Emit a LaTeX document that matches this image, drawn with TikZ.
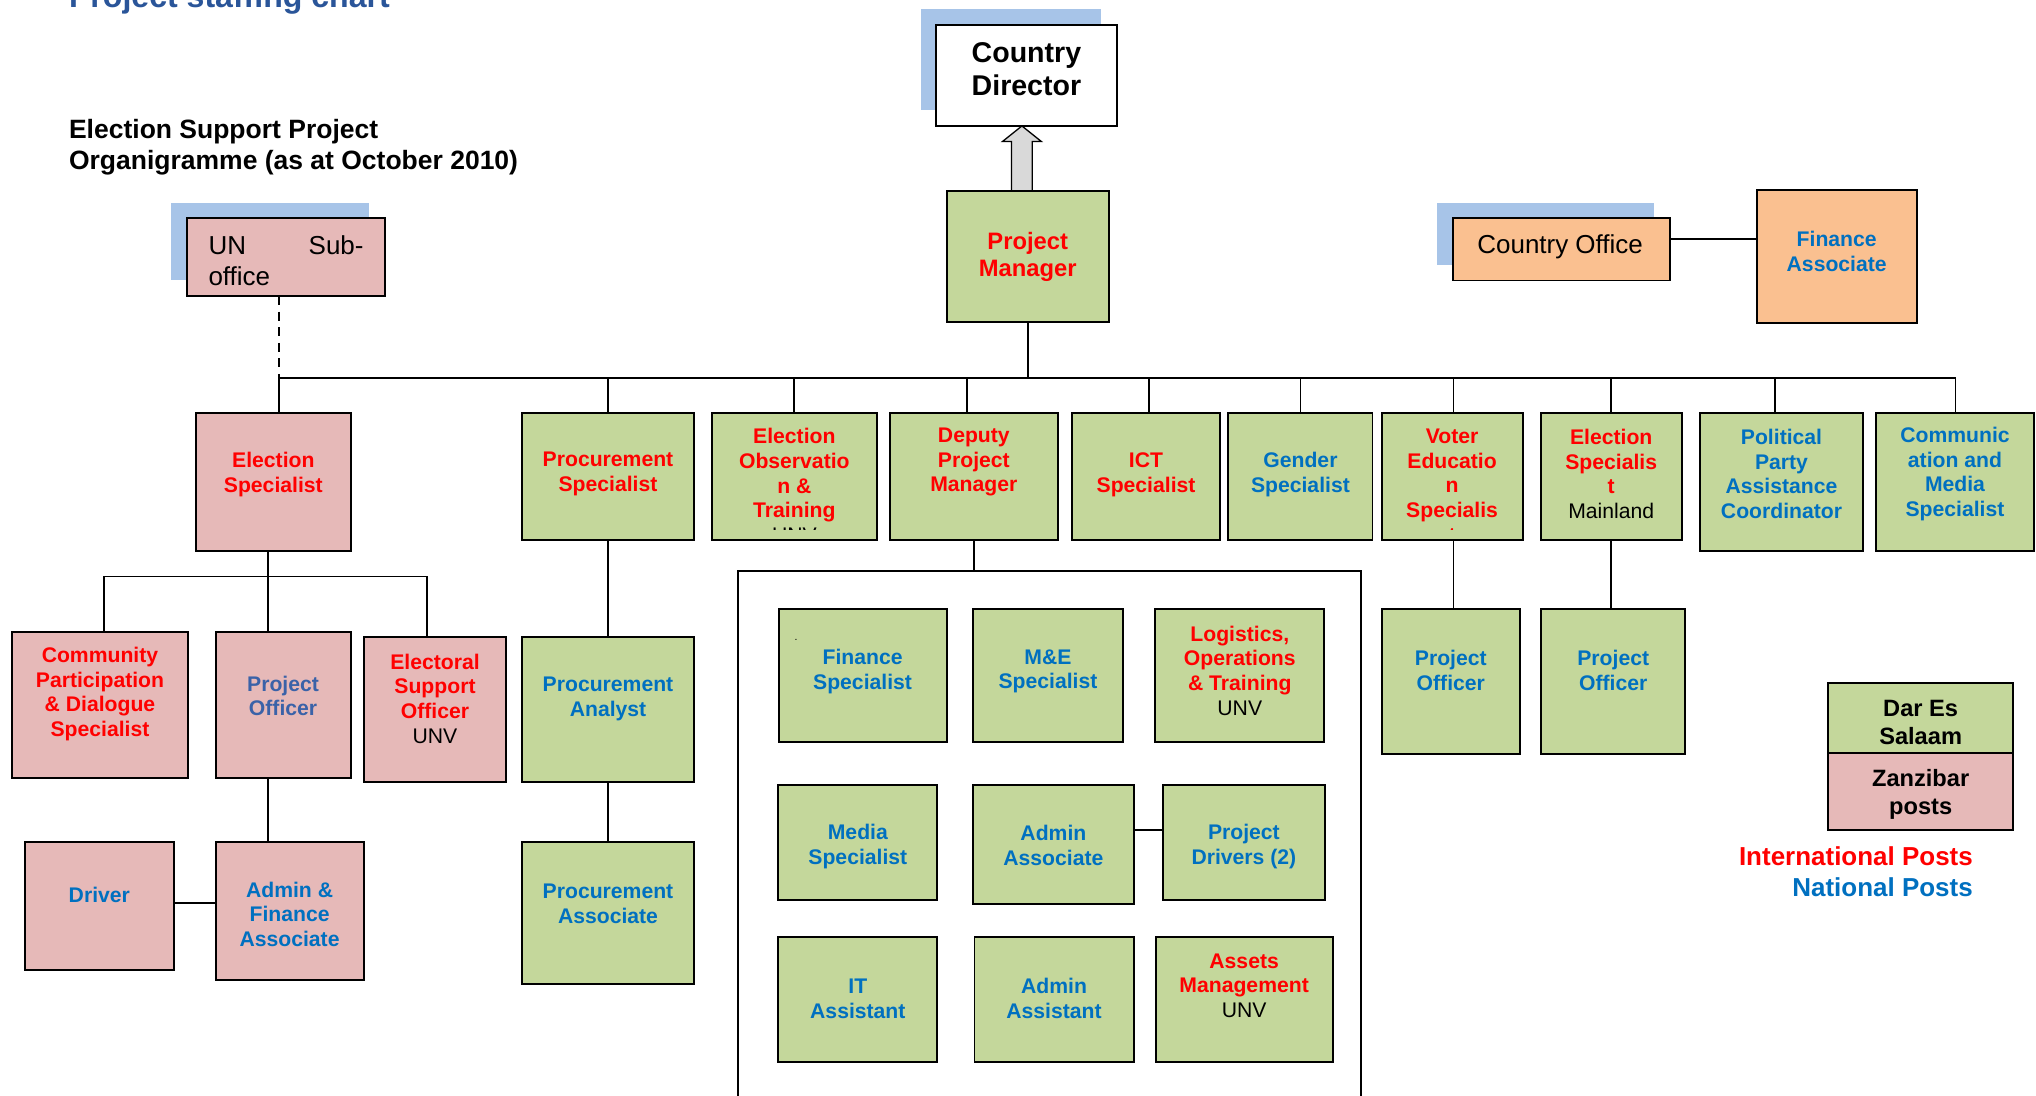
\documentclass[tikz,border=0pt]{standalone}
\usepackage{fontspec}
\setmainfont{Liberation Sans}
\usetikzlibrary{calc,shadows}
\definecolor{gfill}{HTML}{C4D79B}
\definecolor{pfill}{HTML}{E6B9B8}
\definecolor{ofill}{HTML}{FAC090}
\definecolor{shblue}{HTML}{A7C4E8}
\definecolor{ired}{HTML}{FF0000}
\definecolor{nblue}{HTML}{0070C0}
\definecolor{pblue}{HTML}{3A62A8}
\definecolor{tblue}{HTML}{2A5599}
\definecolor{agray}{HTML}{D9D9D9}
\begin{document}
\begin{tikzpicture}[x=1pt,y=-1pt,
 box/.style={draw=black, line width=1.5pt, inner sep=0pt, outer sep=0pt},
 gbox/.style={box, fill=gfill},
 pbox/.style={box, fill=pfill},
 obox/.style={box, fill=ofill},
 wbox/.style={box, fill=white},
 bshadow/.style={general shadow={fill=shblue, draw=none, shadow xshift=-12pt, shadow yshift=12pt}},
 txt/.style={inner sep=0pt, align=center, font=\fontsize{16.3}{19}\selectfont\bfseries},
 rtxt/.style={txt, text=ired},
 btxt/.style={txt, text=nblue},
 conn/.style={draw=black, line width=1.35pt},
 regtxt/.style={inner sep=0pt, font=\fontsize{20}{24}\selectfont},
]
\fill[white] (0,0) rectangle (1568,844);
\path[use as bounding box, clip] (0,0) rectangle (1568,844);

% titles
\node[anchor=base west, inner sep=0pt, font=\fontsize{24.7}{28}\selectfont\bfseries, text=tblue] (title) at (53,6) {Project staffing chart};
\node[anchor=west, align=left, inner sep=0pt, font=\fontsize{20.4}{24}\selectfont\bfseries] (head) at (53,113.5) {Election Support Project\\Organigramme (as at October 2010)};

% top boxes
\node[wbox, bshadow, minimum width=139, minimum height=78] (cd) at (790.5,58) {};
\node[txt, font=\fontsize{22}{25.5}\selectfont\bfseries] (cdt) at (790.5,53.5) {Country\\Director};
\node[gbox, minimum width=125, minimum height=101] (pm) at (791.5,197.5) {};
\node[txt, text=ired, font=\fontsize{18.3}{21}\selectfont\bfseries] (pmt) at (791.5,198) {Project\\Manager};
\node[pbox, bshadow, minimum width=152.5, minimum height=60] (un) at (220.25,198) {};
\node[regtxt, text width=119.4pt, align=left] (unt) at (220.3,201) {UN\hfill Sub-\\office};
\node[obox, bshadow, minimum width=167, minimum height=48] (co) at (1202.5,192) {};
\node[regtxt] (cot) at (1201.5,190) {Country Office};
\node[obox, minimum width=123, minimum height=103] (fa) at (1414.5,197.5) {};
\node[btxt] (fat) at (1414.5,193.5) {Finance\\Associate};

% block arrow
\coordinate (as) at ([xshift=-4.5pt]pm.north);
\coordinate (at) at (as |- cd.south);
\draw[fill=agray, line width=1pt, line join=miter] ($(as)+(-8,0)$) -- ($(at)+(-8,12)$) -- ($(at)+(-15,12)$) -- (at) -- ($(at)+(15,12)$) -- ($(at)+(8,12)$) -- ($(as)+(8,0)$) -- cycle;

% top row
\node[pbox, minimum width=119, minimum height=106] (es) at (210.5,371) {};
\node[rtxt] (est) at (210.5,365.5) {Election\\Specialist};
\node[gbox, minimum width=132.5, minimum height=98] (ps) at (468.25,367) {};
\node[rtxt] (pst) at (468.25,365) {Procurement\\Specialist};
\node[gbox, minimum width=127.5, minimum height=98] (eo) at (611.75,367) {};
\begin{scope}
\clip (548,318) rectangle (676,407.5);
\node[rtxt] (eot) at (611.75,374) {Election\\Observatio\\n \&\\Training\\ \textcolor{black}{\mdseries UNV}};
\end{scope}
\node[gbox, minimum width=129, minimum height=98] (dpm) at (750,367) {};
\node[rtxt] (dpmt) at (750,356) {Deputy\\Project\\Manager};
\node[gbox, minimum width=114, minimum height=98] (ict) at (882.6,367) {};
\node[rtxt] (ictt) at (882.6,365.5) {ICT\\Specialist};
\node[gbox, minimum width=111, minimum height=98] (gen) at (1001.5,367) {};
\node[btxt] (gent) at (1001.5,365.5) {Gender\\Specialist};
\node[gbox, minimum width=108.6, minimum height=98] (ve) at (1118.3,367) {};
\begin{scope}
\clip (1064,318) rectangle (1173,407.5);
\node[rtxt] (vet) at (1118.3,374) {Voter\\Educatio\\n\\Specialis\\t};
\end{scope}
\node[gbox, minimum width=108.3, minimum height=98] (esm) at (1240.85,367) {};
\node[rtxt] (esmt) at (1240.85,365) {Election\\Specialis\\t\\ \textcolor{black}{\mdseries Mainland}};
\node[gbox, minimum width=126, minimum height=106] (pp) at (1372,371) {};
\node[btxt] (ppt) at (1372,365) {Political\\Party\\Assistance\\Coordinator};
\node[gbox, minimum width=121.8, minimum height=106] (com) at (1505.6,371) {};
\node[btxt] (comt) at (1505.6,365) {Communic\\ation and\\Media\\Specialist};

% election specialist subtree
\node[pbox, minimum width=136, minimum height=112.3] (cpds) at (77,542.85) {};
\node[rtxt] (cpdst) at (77,534.5) {Community\\Participation\\\& Dialogue\\Specialist};
\node[pbox, minimum width=104, minimum height=112.3] (po) at (218,542.85) {};
\node[txt, text=pblue] (pot) at (218,536) {Project\\Officer};
\node[pbox, minimum width=110, minimum height=111.5] (eso) at (335,546.25) {};
\node[rtxt] (esot) at (335,538) {Electoral\\Support\\Officer\\ \textcolor{black}{\mdseries UNV}};
\node[pbox, minimum width=115, minimum height=98.5] (drv) at (76.5,697.75) {};
\node[btxt] (drvt) at (76.5,689) {Driver};
\node[pbox, minimum width=114, minimum height=106.5] (afa) at (223,701.75) {};
\node[btxt] (afat) at (223,704) {Admin \&\\Finance\\Associate};

% procurement
\node[gbox, minimum width=132.5, minimum height=111.4] (pa) at (468.25,546.3) {};
\node[btxt] (pat) at (468.25,538.5) {Procurement\\Analyst};
\node[gbox, minimum width=132.5, minimum height=109.5] (pas) at (468.25,703.25) {};
\node[btxt] (past) at (468.25,696) {Procurement\\Associate};

% deputy group
\node[draw=black, line width=1.35pt, inner sep=0pt, minimum width=479.5, minimum height=460] (grp) at (808.25,670) {};
\node[gbox, minimum width=129.4, minimum height=102.5] (fs) at (664.3,520.25) {};
\node[btxt] (fst) at (664.3,517) {Finance\\Specialist};
\node[inner sep=0pt, font=\fontsize{8}{8}\selectfont] (fsdot) at (613,493) {.};
\node[gbox, minimum width=115.2, minimum height=102.5] (me) at (807.1,520.25) {};
\node[btxt] (met) at (807.1,517) {M\&E\\Specialist};
\node[gbox, minimum width=130.4, minimum height=102.5] (log) at (954.8,520.25) {};
\node[rtxt] (logt) at (954.8,516.5) {Logistics,\\Operations\\\& Training\\ \textcolor{black}{\mdseries UNV}};
\node[gbox, minimum width=122.3, minimum height=88.5] (ms) at (660.65,648.75) {};
\node[btxt] (mst) at (660.65,652) {Media\\Specialist};
\node[gbox, minimum width=123.5, minimum height=91.5] (aa) at (811.25,650.25) {};
\node[btxt] (aat) at (811.25,651) {Admin\\Associate};
\node[gbox, minimum width=124.9, minimum height=88.5] (pd) at (957.95,648.75) {};
\node[btxt] (pdt) at (957.95,652) {Project\\Drivers (2)};
\node[gbox, minimum width=122.3, minimum height=96.3] (ita) at (660.65,769.45) {};
\node[btxt] (itat) at (660.65,769) {IT\\Assistant};
\node[gbox, minimum width=122.5, minimum height=96.3] (aas) at (811.75,769.45) {};
\node[btxt] (aast) at (811.75,769) {Admin\\Assistant};
\node[gbox, minimum width=136.3, minimum height=96.3] (am) at (958.15,769.45) {};
\node[rtxt] (amt) at (958.15,759) {Assets\\Management\\ \textcolor{black}{\mdseries UNV}};

% right project officers
\node[gbox, minimum width=106.6, minimum height=111.7] (po1) at (1117.3,524.85) {};
\node[btxt] (po1t) at (1117.3,516.5) {Project\\Officer};
\node[gbox, minimum width=111.2, minimum height=111.7] (po2) at (1242.4,524.85) {};
\node[btxt] (po2t) at (1242.4,516.5) {Project\\Officer};

% legend
\node[gbox, minimum width=142.7, minimum height=54] (dar) at (1479.15,553) {};
\node[txt, font=\fontsize{18.2}{21.5}\selectfont\bfseries] (dart) at (1479.15,556.5) {Dar Es\\Salaam};
\node[pbox, minimum width=142.7, minimum height=59] (zan) at (1479.15,609.5) {};
\node[txt, font=\fontsize{18.2}{21.5}\selectfont\bfseries] (zant) at (1479.15,611.5) {Zanzibar\\posts};
\node[anchor=east, inner sep=0pt, font=\fontsize{20}{24}\selectfont\bfseries, text=ired] (intl) at (1519.5,659.5) {International Posts};
\node[anchor=east, inner sep=0pt, font=\fontsize{20}{24}\selectfont\bfseries, text=nblue] (nat) at (1519.5,683) {National Posts};

% connectors
\coordinate (busL) at (215,291);
\coordinate (busR) at (1506,291);
\draw[conn] (busL) -- (busR);
\draw[conn] (pm.south) -- (pm.south |- busL);
\draw[conn, dash pattern=on 7pt off 5pt] (un.south -| busL) -- (busL);
\draw[conn] (busL) -- (busL |- es.north);
\draw[conn] (ps.north |- busL) -- (ps.north);
\draw[conn] (eo.north |- busL) -- (eo.north);
\draw[conn] ([xshift=-5pt]dpm.north |- busL) -- ([xshift=-5pt]dpm.north);
\draw[conn] ([xshift=2pt]ict.north |- busL) -- ([xshift=2pt]ict.north);
\draw[conn] (gen.north |- busL) -- (gen.north);
\draw[conn] ([xshift=1pt]ve.north |- busL) -- ([xshift=1pt]ve.north);
\draw[conn] (esm.north |- busL) -- (esm.north);
\draw[conn] ([xshift=-5pt]pp.north |- busL) -- ([xshift=-5pt]pp.north);
\draw[conn] (busR) -- (busR |- com.north);

\coordinate (esj) at ($([xshift=-4pt]es.south)+(0,20)$);
\draw[conn] ([xshift=-4pt]es.south) -- ([xshift=-4pt]es.south |- po.north);
\draw[conn] ([xshift=3pt]cpds.north) |- (esj) -| ([xshift=-6pt]eso.north);
\draw[conn] ([xshift=-4pt]es.south |- po.south) -- ([xshift=-4pt]es.south |- afa.north);
\draw[conn] ([yshift=2.5pt]drv.east) -- ([yshift=2.5pt]drv.east -| afa.west);
\draw[conn] (ps.south) -- (pa.north);
\draw[conn] (pa.south) -- (pas.north);
\draw[conn] (dpm.south) -- (dpm.south |- grp.north);
\draw[conn] ([yshift=11pt]aa.east) -- ([yshift=11pt]aa.east -| pd.west);
\draw[conn] ([xshift=1pt]ve.south) -- ([xshift=1pt]ve.south |- po1.north);
\draw[conn] (esm.south) -- (esm.south |- po2.north);
\draw[conn] ([yshift=8pt]co.east) -- ([yshift=8pt]co.east -| fa.west);
\end{tikzpicture}
\end{document}
